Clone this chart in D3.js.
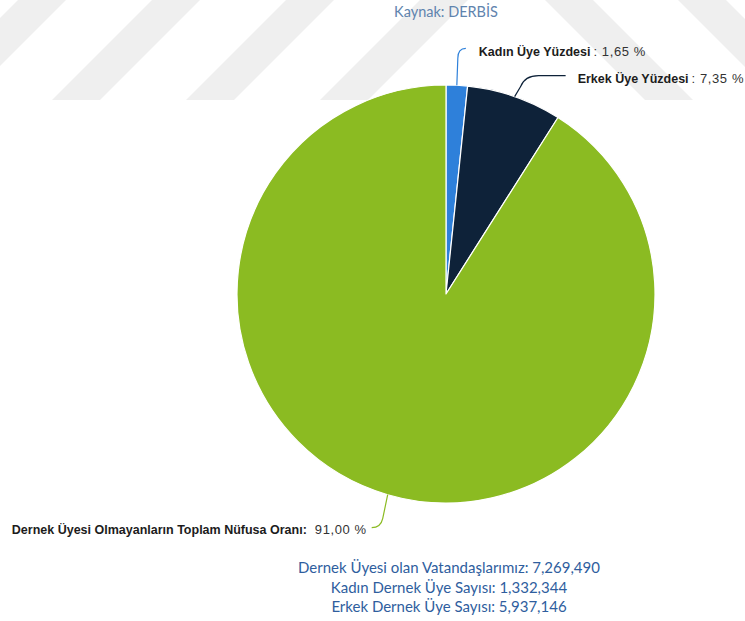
<!DOCTYPE html>
<html><head><meta charset="utf-8">
<script src="https://cdn.jsdelivr.net/npm/d3@7"></script>
<style>body{margin:0;background:#fff}</style></head><body>
<svg id="c" width="745" height="621"></svg>
<script>
// ---- data ----
const categories = ["Kadın Üye Yüzdesi", "Erkek Üye Yüzdesi", "Dernek Üyesi Olmayanların Toplam Nüfusa Oranı:"];
const values = [1.65, 7.35, 91.00];
const valueLabels = [": 1,65 %", ": 7,35 %", "91,00 %"];
const colors = ["#2e80da", "#0e2239", "#8bbb22"];
const sourceText = "Kaynak: DERBİS";
const footerLines = [
  "Dernek Üyesi olan Vatandaşlarımız: 7,269,490",
  "Kadın Dernek Üye Sayısı: 1,332,344",
  "Erkek Dernek Üye Sayısı: 5,937,146"
];

const W = 745, H = 621;
const svg = d3.select("#c");

// ---- watermark stripes ----
const wm = svg.append("g").attr("fill", "#efefef");
const stripeH = 100, stripeW = 48;
[-82, 52, 186, 320].forEach(b => {
  wm.append("path").attr("d", `M${b},${stripeH}L${b + stripeW},${stripeH}L${b + stripeW + stripeH},0L${b + stripeH},0Z`);
});
[545, 678].forEach(t => {
  wm.append("path").attr("d", `M${t},0L${t + stripeW},0L${t + stripeW + stripeH},${stripeH}L${t + stripeH},${stripeH}Z`);
});

// ---- pie ----
const cx = 446, cy = 294, R = 209;
const pie = d3.pie().sort(null).value(d => d)(values);
const arc = d3.arc().innerRadius(0).outerRadius(R);
const g = svg.append("g").attr("transform", `translate(${cx},${cy})`);
g.selectAll("path.slice").data(pie).enter().append("path")
  .attr("class", "slice")
  .attr("d", arc)
  .attr("fill", (d, i) => colors[i])
  .attr("stroke", "#fff").attr("stroke-width", 1.2).attr("stroke-linejoin", "round");

// anchor points on the rim
const anchors = pie.map(d => {
  const a = (d.startAngle + d.endAngle) / 2;
  return [R * Math.sin(a), -R * Math.cos(a)];
});

// connectors + labels (relative to anchor)
const lab = g.append("g");
function connector(i, pathFn) {
  const [x, y] = anchors[i];
  lab.append("path").attr("d", pathFn(x, y)).attr("fill", "none")
    .attr("stroke", colors[i]).attr("stroke-width", 1.2);
}
function label(i, x, y, anchor, gap) {
  const t = lab.append("text").attr("x", x).attr("y", y).attr("dy", "0.35em")
    .attr("text-anchor", anchor)
    .style("font-family", "'Liberation Sans', Arial, sans-serif");
  t.append("tspan").text(categories[i]).style("font-weight", "bold")
    .style("font-size", "12.5px").attr("fill", "#1c1c1c");
  t.append("tspan").attr("dx", gap).text(valueLabels[i])
    .style("font-size", "13px").style("letter-spacing", "0.6px").attr("fill", "#333");
}
// Kadın
connector(0, (x, y) => `M${x},${y}L${x + 1},${y - 27}Q${x + 1},${y - 37} ${x + 9},${y - 37}`);
label(0, anchors[0][0] + 22, anchors[0][1] - 35, "start", 3);
// Erkek
connector(1, (x, y) => `M${x},${y}L${x + 6},${y - 10}Q${x + 10},${y - 21} ${x + 24},${y - 21}L${x + 51},${y - 21}`);
label(1, anchors[1][0] + 63, anchors[1][1] - 19, "start", 3);
// Green
connector(2, (x, y) => `M${x},${y}L${x - 5},${y + 24}Q${x - 7},${y + 33} ${x - 16},${y + 33}`);
label(2, anchors[2][0] - 21, anchors[2][1] + 34, "end", 8);

// ---- source text ----
svg.append("text").attr("x", cx).attr("y", 17).attr("text-anchor", "middle")
  .style("font-family", "Lato, sans-serif").style("font-size", "14.5px")
  .attr("fill", "#5f84ae").text(sourceText);

// ---- footer ----
svg.append("g").selectAll("text").data(footerLines).enter().append("text")
  .attr("x", 449).attr("y", (d, i) => 573 + i * 19.5).attr("text-anchor", "middle")
  .style("font-family", "Lato, sans-serif").style("font-size", "15px")
  .attr("fill", "#2f5e9e").text(d => d);
</script>
</body></html>
